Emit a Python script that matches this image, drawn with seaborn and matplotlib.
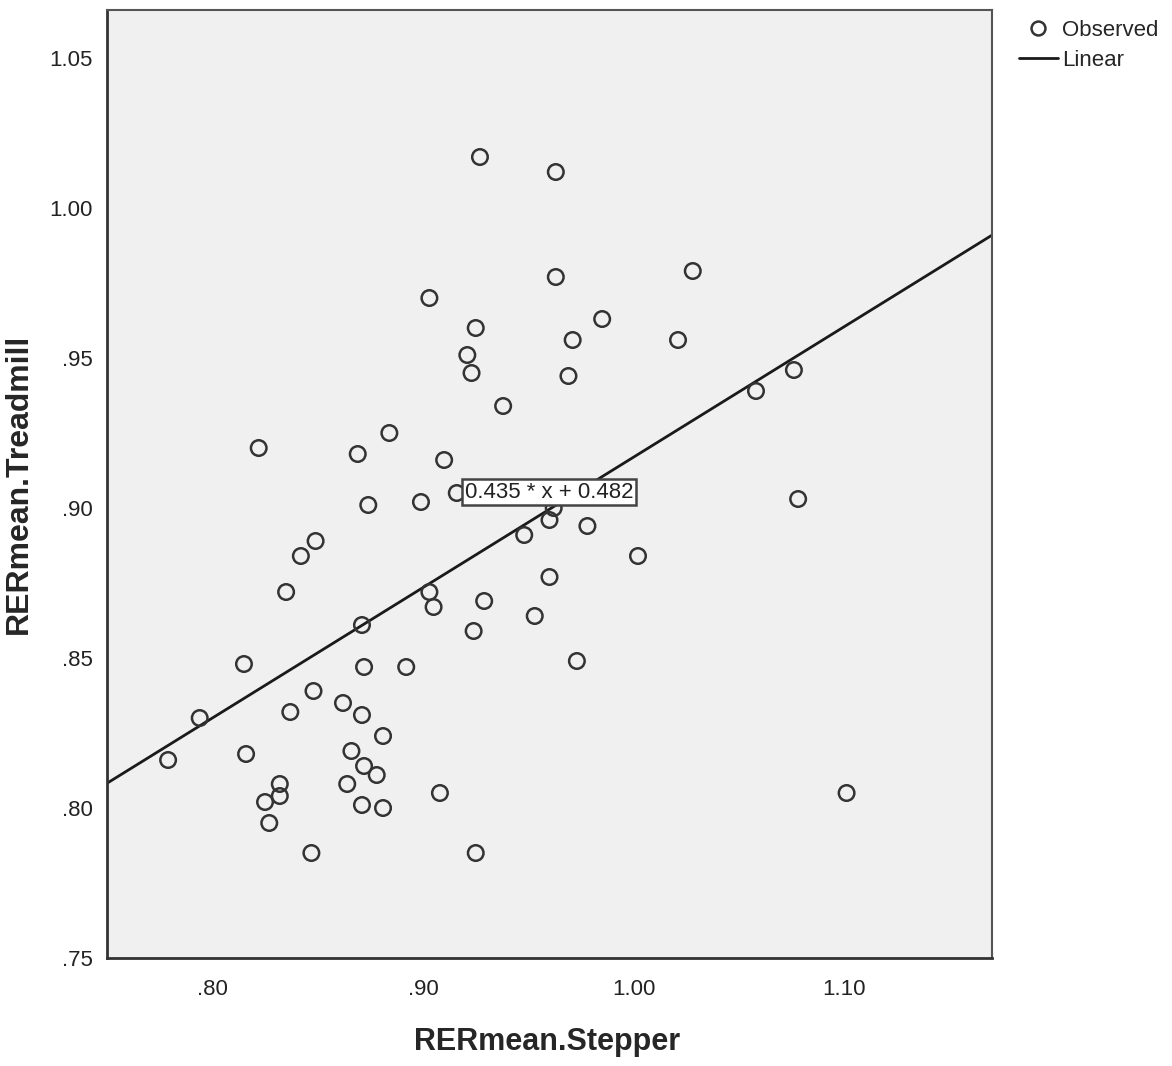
import numpy as np
import pandas as pd
import matplotlib.pyplot as plt
import seaborn as sns
from matplotlib.lines import Line2D

stepper = [
    0.927, 0.963, 0.963, 1.028, 0.903, 0.925, 0.985, 0.921, 0.923, 0.971,
    1.021, 0.969, 0.938, 1.058, 1.076, 0.822, 0.869, 0.884, 0.910, 0.874,
    0.899, 0.916, 1.078, 0.842, 0.849, 0.835, 0.903, 0.905, 0.929, 0.924,
    0.948, 0.960, 0.962, 0.978, 1.002, 0.960, 0.953, 0.973, 0.871, 0.815,
    0.872, 0.892, 0.794, 0.779, 0.816, 0.848, 0.837, 0.862, 0.871, 0.881,
    0.866, 0.872, 0.878, 0.864, 0.832, 0.832, 0.825, 0.827, 0.871, 0.881,
    0.908, 0.847, 0.925, 1.101,
]
treadmill = [
    1.017, 1.012, 0.977, 0.979, 0.970, 0.960, 0.963, 0.951, 0.945, 0.956,
    0.956, 0.944, 0.934, 0.939, 0.946, 0.920, 0.918, 0.925, 0.916, 0.901,
    0.902, 0.905, 0.903, 0.884, 0.889, 0.872, 0.872, 0.867, 0.869, 0.859,
    0.891, 0.896, 0.900, 0.894, 0.884, 0.877, 0.864, 0.849, 0.861, 0.848,
    0.847, 0.847, 0.830, 0.816, 0.818, 0.839, 0.832, 0.835, 0.831, 0.824,
    0.819, 0.814, 0.811, 0.808, 0.808, 0.804, 0.802, 0.795, 0.801, 0.800,
    0.805, 0.785, 0.785, 0.805,
]

slope = 0.435
intercept = 0.482
eq_label = "0.435 * x + 0.482"

x_ticks = [0.80, 0.90, 1.00, 1.10]
x_tick_labels = [".80", ".90", "1.00", "1.10"]
y_ticks = [0.75, 0.80, 0.85, 0.90, 0.95, 1.00, 1.05]
y_tick_labels = [".75", ".80", ".85", ".90", ".95", "1.00", "1.05"]

df = pd.DataFrame({"RERmean.Stepper": stepper, "RERmean.Treadmill": treadmill})

sns.set_theme(style="white")
plt.rcParams["font.family"] = ["Liberation Sans", "DejaVu Sans"]

fig = plt.figure(figsize=(11.72, 10.66), dpi=100)
ax = fig.add_axes([0.0913, 0.1013, 0.7551, 0.8893])
ax.set_facecolor("#f0f0f0")

sns.scatterplot(
    data=df, x="RERmean.Stepper", y="RERmean.Treadmill", ax=ax,
    marker="o", s=125, facecolor="none", edgecolor="#333333",
    linewidth=1.8, zorder=3,
)
ax.axline((0, intercept), slope=slope, color="#1a1a1a", lw=2.0, zorder=2)

ax.set_xlim(0.75, 1.17)
ax.set_ylim(0.75, 1.066)
ax.set_xticks(x_ticks)
ax.set_xticklabels(x_tick_labels)
ax.set_yticks(y_ticks)
ax.set_yticklabels(y_tick_labels)
ax.tick_params(axis="both", which="major", labelsize=16, colors="#222222",
               direction="out", length=8, width=1.5)
ax.tick_params(axis="x", length=11, pad=4)
ax.tick_params(axis="y", pad=2)

for side in ["left", "bottom"]:
    ax.spines[side].set_color("#333333")
    ax.spines[side].set_linewidth(2.0)
for side in ["top", "right"]:
    ax.spines[side].set_color("#555555")
    ax.spines[side].set_linewidth(1.5)

ax.set_xlabel("RERmean.Stepper", fontsize=22, fontweight="bold")
ax.set_ylabel("RERmean.Treadmill", fontsize=23, fontweight="bold")
ax.xaxis.set_label_coords(0.497, -0.073)
ax.yaxis.set_label_coords(-0.083, 0.5)

ax.text(0.9199, 0.9053, eq_label, ha="left", va="center", fontsize=16,
        color="#222222", zorder=4,
        bbox=dict(boxstyle="square,pad=0.12", facecolor="white",
                  edgecolor="#444444", linewidth=1.8))

handles = [
    Line2D([], [], linestyle="none", marker="o", markersize=10,
           markerfacecolor="none", markeredgecolor="#333333", markeredgewidth=1.8),
    Line2D([], [], color="#1a1a1a", lw=2.0),
]
fig.legend(handles, ["Observed", "Linear"], loc="upper left",
           bbox_to_anchor=(0.858, 0.994), frameon=False, fontsize=16,
           handlelength=1.75, handletextpad=0.2, labelspacing=0.4,
           borderaxespad=0.2)

fig.savefig("out.png", dpi=100, facecolor="white")
